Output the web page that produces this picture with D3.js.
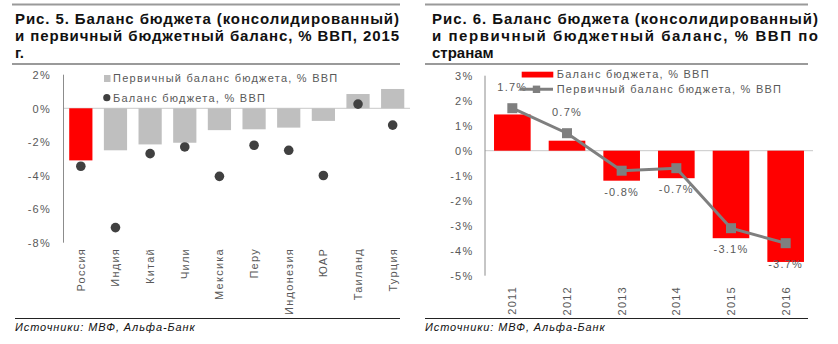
<!DOCTYPE html>
<html>
<head>
<meta charset="utf-8">
<script src="https://cdn.jsdelivr.net/npm/d3@7"></script>
<style>
  html, body { margin: 0; padding: 0; background: #fff; }
  svg { display: block; font-family: "Liberation Sans", Arial, sans-serif; }
  .tick text, .lbl { fill: #595959; font-size: 11px; letter-spacing: 1.25px; }
</style>
</head>
<body>
<svg id="chart" width="838" height="344"></svg>
<script>
// Рис. 5 — страны, 2015 г.
const countries = ['Россия', 'Индия', 'Китай', 'Чили', 'Мексика', 'Перу', 'Индонезия', 'ЮАР', 'Таиланд', 'Турция'];
const primaryBalance2015 = [-3.1, -2.5, -2.15, -2.05, -1.3, -1.25, -1.15, -0.75, 0.85, 1.15];
const budgetBalance2015 = [-3.45, -7.1, -2.7, -2.3, -4.05, -2.2, -2.5, -4.0, 0.25, -1.0];
const highlightCountry = 'Россия';
const leftTicks = [2, 0, -2, -4, -6, -8];

// Рис. 6 — Россия по годам
const years = ['2011', '2012', '2013', '2014', '2015', '2016'];
const budgetBalanceRu = [1.45, 0.4, -1.2, -1.1, -3.5, -4.45];
const primaryBalanceRu = [1.7, 0.7, -0.8, -0.7, -3.1, -3.7];
const rightTicks = [3, 2, 1, 0, -1, -2, -3, -4, -5];

const titleLeft = ['Рис. 5. Баланс бюджета (консолидированный)', 'и первичный бюджетный баланс, % ВВП, 2015', 'г.'];
const titleRight = ['Рис. 6. Баланс бюджета (консолидированный)', 'и первичный бюджетный баланс, % ВВП по', 'странам'];
const sourceText = 'Источники: МВФ, Альфа-Банк';
const legendLeft = ['Первичный баланс бюджета, % ВВП', 'Баланс бюджета, % ВВП'];
const legendRight = ['Баланс бюджета, % ВВП', 'Первичный баланс бюджета, % ВВП'];

const RED = '#ff0000', BAR_GRAY = '#bfbfbf', DOT = '#404040', LINE_GRAY = '#7f7f7f';
const fmt = d => d + '%';
const svg = d3.select('#chart');

// Title block with rules above and below; first two lines justified
function header(x0, x1, lines, ruleX0, ruleX1) {
  const g = svg.append('g');
  g.append('line').attr('x1', ruleX0).attr('x2', ruleX1).attr('y1', 4.5).attr('y2', 4.5)
    .attr('stroke', '#9a9a9a').attr('stroke-width', 2);
  g.append('line').attr('x1', ruleX0).attr('x2', ruleX1).attr('y1', 64).attr('y2', 64)
    .attr('stroke', '#9a9a9a').attr('stroke-width', 2);
  lines.forEach((t, i) => {
    const txt = g.append('text').attr('x', x0).attr('y', 24 + i * 17.2)
      .attr('font-size', 15).attr('font-weight', 'bold').attr('fill', '#111').text(t);
    if (i < lines.length - 1) txt.attr('textLength', x1 - x0).attr('lengthAdjust', 'spacing');
  });
}

function footer(x0, x1) {
  svg.append('line').attr('x1', x0).attr('x2', x1).attr('y1', 318.5).attr('y2', 318.5)
    .attr('stroke', '#222').attr('stroke-width', 1);
  svg.append('text').attr('x', x0).attr('y', 330.5).attr('font-size', 11)
    .attr('font-style', 'italic').attr('fill', '#111').attr('letter-spacing', 0.9).text(sourceText);
}

function yAxis(scale, x, ticks, labelX) {
  const g = svg.append('g').attr('transform', `translate(${labelX},0)`)
    .call(d3.axisLeft(scale).tickValues(ticks).tickFormat(fmt).tickSize(0).tickPadding(0));
  g.select('.domain').remove();
  g.selectAll('.tick text').attr('dy', '0.35em');
  const r = scale.range();
  svg.append('line').attr('x1', x).attr('x2', x).attr('y1', r[0]).attr('y2', r[1])
    .attr('stroke', '#8c8c8c').attr('stroke-width', 1);
}

function xLabels(scale, labels, yEnd) {
  svg.append('g').selectAll('text').data(labels).join('text')
    .attr('class', 'lbl')
    .attr('transform', d => `translate(${scale(d) + scale.bandwidth() / 2},${yEnd}) rotate(-90)`)
    .attr('text-anchor', 'end').attr('dy', '0.35em').text(d => d);
}

// ---------- Left chart ----------
header(15, 399, titleLeft, 12, 400);
footer(15, 400);

const yL = d3.scaleLinear().domain([-8, 2]).range([242.7, 74.7]);
const xL = d3.scaleBand().domain(countries).range([63.5, 410]).paddingInner(0.33).paddingOuter(0.165);

svg.append('line').attr('x1', 63.5).attr('x2', 410).attr('y1', yL(0)).attr('y2', yL(0))
  .attr('stroke', '#c8c8c8').attr('stroke-width', 1);

svg.append('g').selectAll('rect').data(countries).join('rect')
  .attr('x', d => xL(d))
  .attr('width', xL.bandwidth())
  .attr('y', (d, i) => yL(Math.max(0, primaryBalance2015[i])))
  .attr('height', (d, i) => Math.abs(yL(primaryBalance2015[i]) - yL(0)))
  .attr('fill', d => d === highlightCountry ? RED : BAR_GRAY);

svg.append('g').selectAll('circle').data(countries).join('circle')
  .attr('cx', d => xL(d) + xL.bandwidth() / 2)
  .attr('cy', (d, i) => yL(budgetBalance2015[i]))
  .attr('r', 4.8).attr('fill', DOT);

yAxis(yL, 63.5, leftTicks, 51);
xLabels(xL, countries, 248);

// legend
svg.append('rect').attr('x', 104).attr('y', 75).attr('width', 6.5).attr('height', 7).attr('fill', BAR_GRAY);
svg.append('text').attr('class', 'lbl').attr('x', 113).attr('y', 78.5).attr('dy', '0.35em').text(legendLeft[0]);
svg.append('circle').attr('cx', 106.8).attr('cy', 97.7).attr('r', 3.6).attr('fill', DOT);
svg.append('text').attr('class', 'lbl').attr('x', 113).attr('y', 98).attr('dy', '0.35em').text(legendLeft[1]);

// ---------- Right chart ----------
header(432, 818, titleRight, 425, 808);
footer(425, 808);

const yR = d3.scaleLinear().domain([-5, 3]).range([275.7, 75.7]);
const xR = d3.scaleBand().domain(years).range([485, 813]).paddingInner(0.33).paddingOuter(0.165);

svg.append('line').attr('x1', 485).attr('x2', 813).attr('y1', yR(0)).attr('y2', yR(0))
  .attr('stroke', '#c8c8c8').attr('stroke-width', 1);

svg.append('g').selectAll('rect').data(years).join('rect')
  .attr('x', d => xR(d))
  .attr('width', xR.bandwidth())
  .attr('y', (d, i) => yR(Math.max(0, budgetBalanceRu[i])))
  .attr('height', (d, i) => Math.abs(yR(budgetBalanceRu[i]) - yR(0)))
  .attr('fill', RED);

const cx = d => xR(d) + xR.bandwidth() / 2;
const line = d3.line().x((d, i) => cx(years[i])).y(d => yR(d));
svg.append('path').datum(primaryBalanceRu).attr('d', line)
  .attr('fill', 'none').attr('stroke', LINE_GRAY).attr('stroke-width', 3);
svg.append('g').selectAll('rect').data(years).join('rect')
  .attr('x', d => cx(d) - 5).attr('y', (d, i) => yR(primaryBalanceRu[i]) - 5)
  .attr('width', 10).attr('height', 10).attr('fill', LINE_GRAY);

svg.append('g').selectAll('text').data(years).join('text')
  .attr('class', 'lbl').attr('text-anchor', 'middle')
  .attr('x', d => cx(d))
  .attr('y', (d, i) => yR(primaryBalanceRu[i]) + (primaryBalanceRu[i] >= 0 ? -21 : 21))
  .attr('dy', '0.35em')
  .text((d, i) => primaryBalanceRu[i].toFixed(1) + '%');

yAxis(yR, 485, rightTicks, 473.5);
xLabels(xR, years, 286);

// legend
svg.append('rect').attr('x', 521.7).attr('y', 71.7).attr('width', 31.6).attr('height', 5.8).attr('fill', RED);
svg.append('text').attr('class', 'lbl').attr('x', 556.7).attr('y', 74.5).attr('dy', '0.35em').text(legendRight[0]);
svg.append('line').attr('x1', 520).attr('x2', 553).attr('y1', 89.3).attr('y2', 89.3)
  .attr('stroke', LINE_GRAY).attr('stroke-width', 3);
svg.append('rect').attr('x', 532.8).attr('y', 85.6).attr('width', 7.4).attr('height', 7.4).attr('fill', LINE_GRAY);
svg.append('text').attr('class', 'lbl').attr('x', 556.7).attr('y', 89.3).attr('dy', '0.35em').text(legendRight[1]);
</script>
</body>
</html>
